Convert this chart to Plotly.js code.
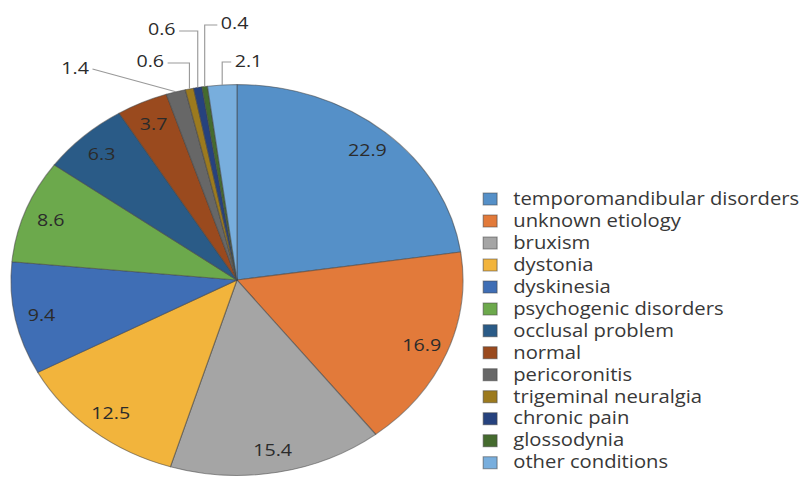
<!DOCTYPE html>
<html><head><meta charset="utf-8">
<script src="https://cdn.plot.ly/plotly-3.0.1.min.js"></script>
<style>
html,body{margin:0;padding:0;background:#fff;overflow:hidden;}
#wrap{width:808px;height:479px;overflow:hidden;}
#chart{width:699px;height:479px;transform:scaleX(1.156);transform-origin:0 0;}
.legendtext{font-size:17.5px !important;}
</style></head><body>
<div id="wrap"><div id="chart"></div></div>
<script>
// ---- data ----
const categories = ["temporomandibular disorders", "unknown etiology", "bruxism", "dystonia", "dyskinesia",
  "psychogenic disorders", "occlusal problem", "normal", "pericoronitis", "trigeminal neuralgia",
  "chronic pain", "glossodynia", "other conditions"];
const percentages = [22.9, 16.9, 15.4, 12.5, 9.4, 8.6, 6.3, 3.7, 1.4, 0.6, 0.6, 0.4, 2.1];
const sliceColors = ["#5590C8", "#E27A3A", "#A5A5A5", "#F2B43C", "#3F6EB5", "#6CA94C", "#2A5B87",
  "#9A4A1E", "#676767", "#9C7A1E", "#26427E", "#456B2E", "#78AEDD"];

// ---- layout geometry (unscaled px) ----
const W = 699, H = 479, CX = 205, CY = 280, R = 195.5;
const insideFrac = 0.88;
const labelFont = {family: "Open Sans, sans-serif", size: 17, color: "#2b2b2b"};
// outside label placement for small slices: index -> [label centre x, label centre y, side of leader, elbow]
const outsidePlacement = {
  8: [65, 67, "right", false],
  9: [130, 61, "right", true],
  10: [140, 29, "right", true],
  11: [203, 23, "left", true],
  12: [215, 60, "left", true]
};

const px = x => x / W, py = y => 1 - y / H;
const total = percentages.reduce((a, b) => a + b, 0);
let cum = 0;
const annotations = [], shapes = [];
percentages.forEach((v, i) => {
  const mid = (cum + v / 2) / total * 2 * Math.PI;
  cum += v;
  const s = Math.sin(mid), c = Math.cos(mid);
  const txt = v.toFixed(1);
  if (outsidePlacement[i]) {
    const [lx, ly, side, elbow] = outsidePlacement[i];
    const ex = CX + R * s, ey = CY - R * c;
    const endX = side === "right" ? lx + 15 : lx - 15;
    const lyy = ly + 2;
    let d = `M${px(ex)},${py(ey)}`;
    if (elbow) d += ` L${px(ex)},${py(lyy)}`;
    d += ` L${px(endX)},${py(lyy)}`;
    shapes.push({type: "path", xref: "paper", yref: "paper", path: d,
      line: {color: "#9a9a9a", width: 1}});
    annotations.push({xref: "paper", yref: "paper", x: px(lx), y: py(ly), text: txt,
      showarrow: false, font: labelFont, xanchor: "center", yanchor: "middle"});
  } else {
    const x = CX + insideFrac * R * s, y = CY - insideFrac * R * c;
    annotations.push({xref: "paper", yref: "paper", x: px(x), y: py(y), text: txt,
      showarrow: false, font: labelFont, xanchor: "center", yanchor: "middle"});
  }
});

const trace = {
  type: "pie",
  labels: categories,
  values: percentages,
  sort: false,
  direction: "clockwise",
  rotation: 0,
  textinfo: "none",
  hoverinfo: "label+value",
  marker: {colors: sliceColors, line: {color: "rgba(70,70,70,0.55)", width: 1}},
  domain: {x: [(CX - R) / W, (CX + R) / W], y: [1 - (CY + R) / H, 1 - (CY - R) / H]}
};

const layout = {
  width: W, height: H,
  margin: {l: 0, r: 0, t: 0, b: 0},
  paper_bgcolor: "#ffffff",
  showlegend: true,
  legend: {x: 404 / W, xanchor: "left", y: 1 - 183 / H, yanchor: "top",
    font: {family: "Open Sans, sans-serif", size: 14.6, color: "#383838"},
    bgcolor: "rgba(0,0,0,0)", traceorder: "normal"},
  annotations: annotations,
  shapes: shapes,
  font: {family: "Open Sans, sans-serif"}
};

Plotly.newPlot("chart", [trace], layout, {staticPlot: true, displayModeBar: false});
</script>
</body></html>
